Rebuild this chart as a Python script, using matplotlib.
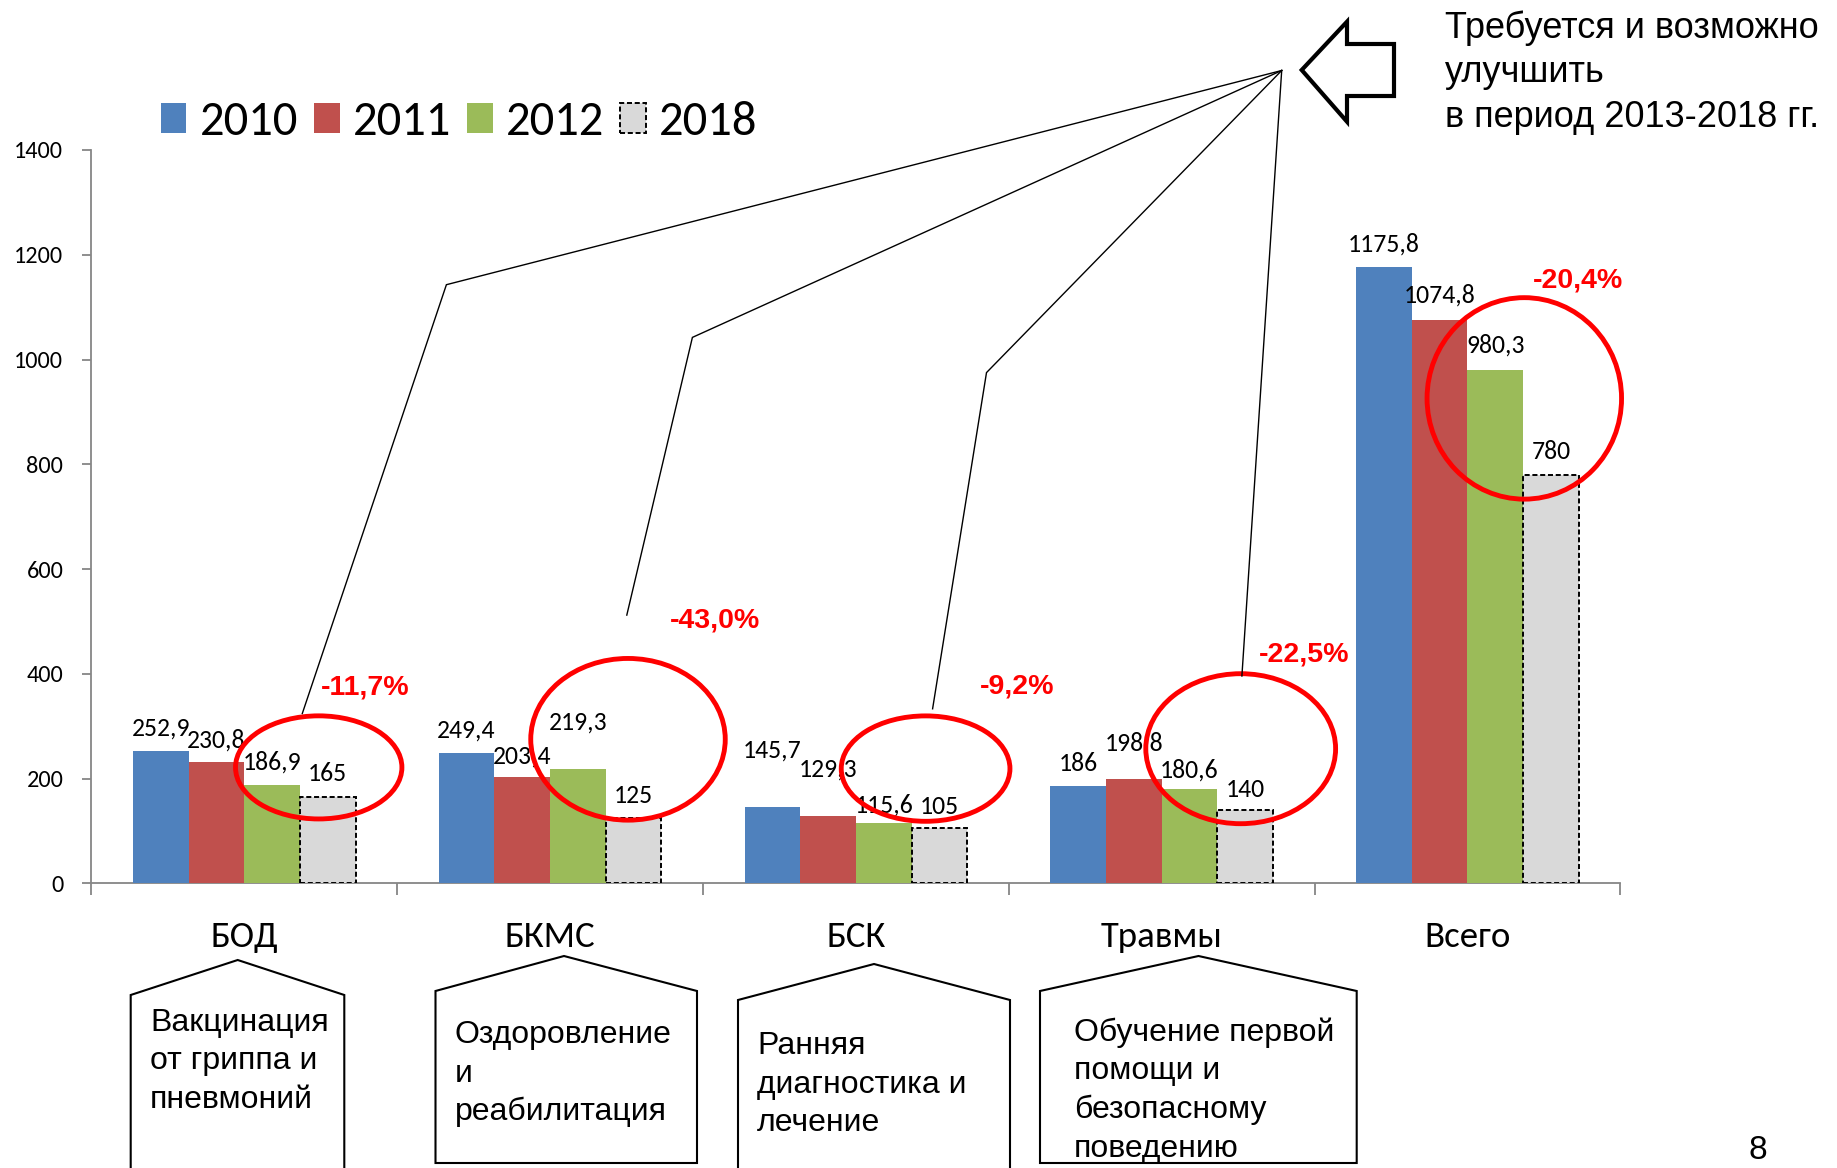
import matplotlib
matplotlib.use('Agg')
import matplotlib.pyplot as plt
from matplotlib import font_manager
from matplotlib.patches import Ellipse, Polygon
import numpy as np

# ---------------- data ----------------
categories = ['БОД', 'БКМС', 'БСК', 'Травмы', 'Всего']
years = ['2010', '2011', '2012', '2018']
v2010 = [252.9, 249.4, 145.7, 186, 1175.8]
v2011 = [230.8, 203.4, 129.3, 198.8, 1074.8]
v2012 = [186.9, 219.3, 115.6, 180.6, 980.3]
v2018 = [165, 125, 105, 140, 780]
changes = ['-11,7%', '-43,0%', '-9,2%', '-22,5%', '-20,4%']
yticks = [0, 200, 400, 600, 800, 1000, 1200, 1400]
measures = [
    ['Вакцинация', 'от гриппа и', 'пневмоний'],
    ['Оздоровление', 'и', 'реабилитация'],
    ['Ранняя', 'диагностика и', 'лечение'],
    ['Обучение первой', 'помощи и', 'безопасному', 'поведению'],
]
callout = ['Требуется и возможно', 'улучшить', 'в период 2013-2018 гг.']
page_number = '8'

# ---------------- styles / layout ----------------
W, H = 1837, 1168
colors = ['#4F81BD', '#C0504D', '#9BBB59', '#D9D9D9']
gray = '#868686'
# vertical offsets of data labels above bar tops (pixels), per series
label_offsets = [
    [23, 23, 57, 22, 23],
    [22, 21, 47, 36, 25],
    [23, 46, 18, 19, 25],
    [23, 22, 22, 21, 23],
]

avail = {f.name for f in font_manager.fontManager.ttflist}
calib = [f for f in ['Carlito', 'Lato', 'Open Sans'] if f in avail] + ['DejaVu Sans']
arial = [f for f in ['Liberation Sans', 'Arial'] if f in avail] + ['DejaVu Sans']


def fmt(v):
    if float(v).is_integer():
        return str(int(v))
    return f'{v:.1f}'.replace('.', ',')


fig = plt.figure(figsize=(W / 100, H / 100), dpi=100)
fig.patch.set_facecolor('white')

ax_l, ax_r, ax_t, ax_b = 91.4, 1620.3, 150.0, 883.4
ax = fig.add_axes([ax_l / W, 1 - ax_b / H, (ax_r - ax_l) / W, (ax_b - ax_t) / H])

x = np.arange(len(categories))
w = 0.182
series = [v2010, v2011, v2012, v2018]
for i, (vals, col, yr) in enumerate(zip(series, colors, years)):
    pos = x + (i - 1.5) * w
    if yr == '2018':
        bars = ax.bar(pos, vals, w, color=col, edgecolor='black', linewidth=1.4,
                      linestyle=(0, (2.6, 1.4)), label=yr, zorder=3)
    else:
        bars = ax.bar(pos, vals, w, color=col, linewidth=0, label=yr, zorder=3)
    for b, v, off in zip(bars, vals, label_offsets[i]):
        ax.annotate(fmt(v), (b.get_x() + b.get_width() / 2, v), xytext=(0, off * 0.72),
                    textcoords='offset points', ha='center', va='center',
                    fontsize=18.5, family=calib, zorder=4)

ax.set_xlim(-0.5, len(categories) - 0.5)
ax.set_ylim(0, 1400)
ax.set_yticks(yticks)
ax.set_yticklabels([str(t) for t in yticks], family=calib, fontsize=17.5)
ax.set_xticks(x)
ax.set_xticklabels(categories, family=calib, fontsize=26.5)
ax.set_xticks(np.arange(-0.5, len(categories), 1), minor=True)
ax.tick_params(axis='x', which='major', length=0, pad=27)
ax.tick_params(axis='x', which='minor', length=8.5, color=gray, width=1.3, direction='out')
ax.tick_params(axis='y', length=6.5, color=gray, width=1.3, pad=13.7)
for s in ['top', 'right']:
    ax.spines[s].set_visible(False)
for s in ['left', 'bottom']:
    ax.spines[s].set_color(gray)
    ax.spines[s].set_linewidth(1.3)

ax.legend(loc='center left', bbox_to_anchor=(160.5 / W, 1 - 121.8 / H),
          bbox_transform=fig.transFigure, ncol=4, frameon=False,
          prop={'family': calib, 'size': 35}, handlelength=0.53, handleheight=0.58,
          handletextpad=0.27, columnspacing=0.33, borderpad=0, borderaxespad=0)

# ---------------- overlay (pixel coordinates) ----------------
ov = fig.add_axes([0, 0, 1, 1])
ov.set_xlim(0, W)
ov.set_ylim(H, 0)
ov.axis('off')

apex = (1281.7, 70.5)
leader_paths = [
    [(446.4, 284.7), (302.3, 713.5)],
    [(692.4, 337.4), (626.8, 615.1)],
    [(986.5, 372.6), (932.6, 708.8)],
    [(1241.9, 676.0)],
]
for p in leader_paths:
    pts = [apex] + p
    ov.plot([q[0] for q in pts], [q[1] for q in pts], color='black', lw=1.0,
            solid_joinstyle='miter')

ellipses = [
    ((318.7, 767.4), 166.4, 103.1),
    ((628.0, 739.3), 194.5, 161.7),
    ((925.6, 768.6), 168.7, 105.4),
    ((1240.7, 748.7), 189.8, 150.0),
    ((1524.3, 398.4), 194.5, 201.5),
]
for c, ew, eh in ellipses:
    ov.add_patch(Ellipse(c, ew, eh, fill=False, edgecolor='#FF0000', lw=3.5))

change_pos = [(365.5, 687.7), (714.7, 621.0), (1017.0, 686.6), (1304.0, 655.0), (1578.0, 281.0)]
for txt, (px, py) in zip(changes, change_pos):
    ov.text(px, py, txt, color='#FF0000', fontsize=20.5, fontweight='bold',
            family=arial, ha='center', va='center')

# block arrow
arrow = [(1301.7, 70.0), (1347, 21.7), (1347, 44), (1394, 44), (1394, 96),
         (1347, 96), (1347, 121.7)]
ov.add_patch(Polygon(arrow, closed=True, facecolor='white', edgecolor='black',
                     lw=3.0, joinstyle='miter'))

for i, line in enumerate(callout):
    ov.text(1444.6, 38 + i * 44.5, line, fontsize=26, family=arial,
            ha='left', va='baseline')

# house-shaped boxes
boxes = [
    [(130.7, 1180), (130.7, 995), (237.7, 960), (344.3, 995), (344.3, 1180)],
    [(435.5, 1163), (435.5, 991), (564, 956), (697, 991), (697, 1163)],
    [(738, 1180), (738, 1000), (874, 964), (1010, 1000), (1010, 1180)],
    [(1040, 1163), (1040, 991), (1198.5, 956), (1356.7, 991), (1356.7, 1163)],
]
for b in boxes:
    ov.add_patch(Polygon(b, closed=True, facecolor='white', edgecolor='black', lw=1.5))

text_anchor = [(150, 1031), (454.6, 1043), (757, 1054), (1074, 1041)]
pitch = 38.5
for lines, (tx, ty) in zip(measures, text_anchor):
    for j, ln in enumerate(lines):
        ov.text(tx, ty + j * pitch, ln, fontsize=23, family=arial,
                ha='left', va='baseline')

ov.text(1758, 1166, page_number, fontsize=24, family=arial, ha='center', va='bottom')

fig.savefig('out.png', dpi=100, facecolor='white')
